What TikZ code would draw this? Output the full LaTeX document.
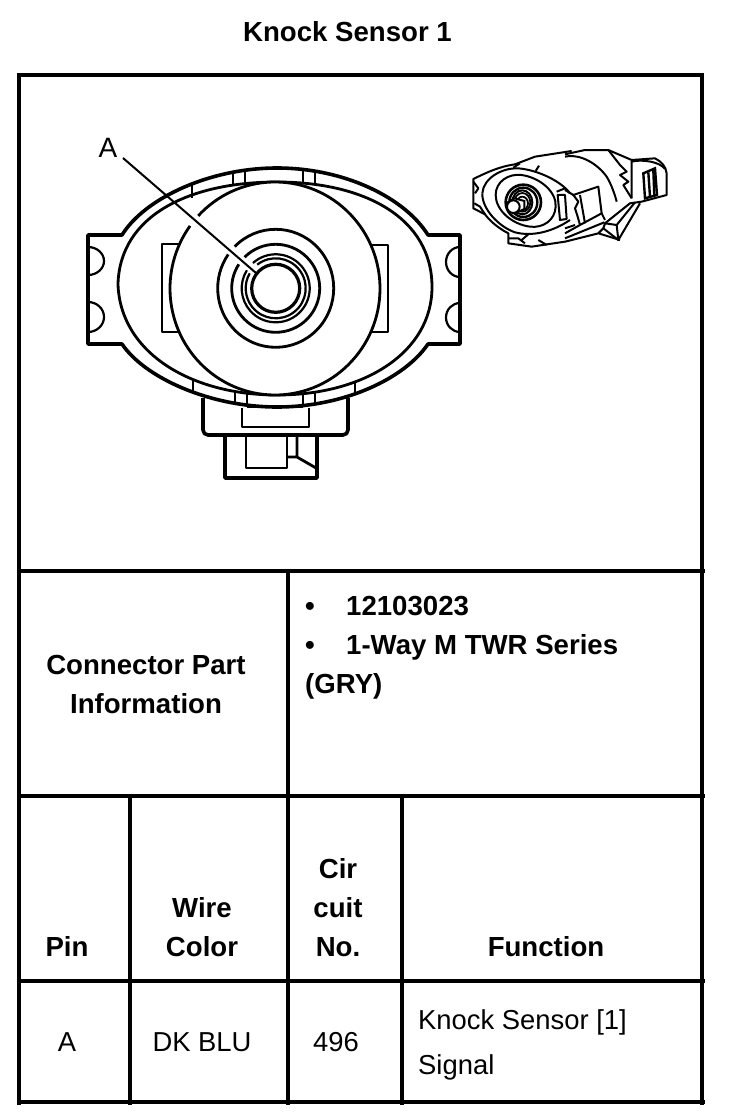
\documentclass[tikz,border=0pt]{standalone}
\usepackage{fontspec}
\setmainfont{Liberation Sans}
\tikzset{
 gridh/.style={line width=3.3pt,black},
 gridv/.style={line width=3.8pt,black},
 hd/.style={font=\fontsize{27.6}{38.8}\selectfont\bfseries,align=center,inner sep=0pt,anchor=base},
 bd/.style={font=\fontsize{27.4}{45}\selectfont,align=left,inner sep=0pt,anchor=base},
 thick line/.style={line width=3.6pt,line join=round},
 mid line/.style={line width=2.8pt,line join=round},
 thin line/.style={line width=2.2pt,line join=round},
 iso/.style={line width=2pt,line join=round},
}
\begin{document}
\begin{tikzpicture}[x=1pt,y=-1pt]
\useasboundingbox (0,0) rectangle (736,1116);
\fill[white] (0,0) rectangle (736,1116);
% title
\node[hd] (title) at (347.5,42) {Knock Sensor 1};
% table
\draw[gridh] (17.5,75) -- (704,75) (17.5,571) -- (705,571) (17.5,796) -- (705,796) (17.5,981) -- (705,981) (17.5,1102) -- (705,1102);
\draw[gridv] (19,73) -- (19,1105) (702,73) -- (702,1105);
\draw[gridv] (288,571) -- (288,1105) (130,796) -- (130,1105) (402,796) -- (402,1105);
\node[hd] (cpi) at (146,713) {Connector Part\\Information};
\node[hd,anchor=base west] (b1) at (305,615) {•};
\node[hd,anchor=base west] (p1) at (346,615) {12103023};
\node[hd,anchor=base west] (b2) at (305,654) {•};
\node[hd,anchor=base west] (p2) at (346,654) {1-Way M TWR Series};
\node[hd,anchor=base west] (p3) at (305,693) {(GRY)};
\node[hd] (pin) at (67,956) {Pin};
\node[hd] (wire) at (202,956) {Wire\\Color};
\node[hd] (cir) at (338,956) {Cir\\cuit\\No.};
\node[hd] (func) at (546,956) {Function};
\node[bd] (va) at (67,1051) {A};
\node[bd] (vb) at (202,1051) {DK BLU};
\node[bd] (vc) at (336,1051) {496};
\node[bd,anchor=base west] (vd) at (418,1074) {Knock Sensor [1]\\Signal};
% main view
\coordinate (ctr) at (275.7,288.3);
\draw[thick line] (122,235) .. controls (145,198) and (210,168) .. (277,168) .. controls (345,168) and (405,198) .. (428,235) -- (460,235) -- (460,344) -- (428,344) .. controls (405,378) and (345,407) .. (277,407) .. controls (210,407) and (145,378) .. (122,344) -- (88,344) -- (88,235) -- cycle;
\draw[mid line] (118,284) .. controls (120,215) and (190,182) .. (277,182) .. controls (365,182) and (432,218) .. (432,287) .. controls (432,352) and (365,395) .. (277,395) .. controls (190,395) and (120,352) .. (118,284) -- cycle;
\draw[thin line] (88,247) arc[start angle=-90,end angle=90,x radius=16,y radius=14];
\draw[thin line] (88,302) arc[start angle=-90,end angle=90,x radius=16,y radius=15];
\draw[thin line] (460,247) arc[start angle=270,end angle=90,x radius=14,y radius=15];
\draw[thin line] (460,303) arc[start angle=270,end angle=90,x radius=14,y radius=14.5];
\draw[mid line] (180,244) -- (162,244) -- (162,332) -- (178,332);
\draw[mid line] (372,245) -- (388,245) -- (388,332) -- (372,332);
% big circle and rings, each open where the leader passes
\fill[white] (275,288.5) ellipse[x radius=105,y radius=106.5];
\draw[mid line] (275,288.5) ++(223:105 and 106.5) arc[start angle=223,end angle=576,x radius=105,y radius=106.5];
\draw[mid line] (ctr) ++(225:58 and 59) arc[start angle=225,end angle=575,x radius=58,y radius=59];
\draw[mid line] (ctr) ++(225:44) arc[start angle=225,end angle=573,radius=44];
\draw[thin line] (ctr) ++(228:34) arc[start angle=228,end angle=572,radius=34];
\draw[thin line] (ctr) ++(232:30) arc[start angle=232,end angle=570,radius=30];
\draw[line width=3.2pt] (ctr) circle[radius=24];
\draw[mid line] (233,173) -- (233,185) (245,170) -- (245,183) (303,170) -- (303,183) (315,173) -- (315,185);
\draw[mid line] (192,183) -- (192,198);
\draw[mid line] (193,380) -- (193,393) (355,381) -- (355,393);
\draw[mid line] (235,392) -- (235,405) (247,393) -- (247,407) (303,393) -- (303,407) (315,392) -- (315,405);
% connector housing
\draw[thick line,rounded corners=5pt] (203,398) -- (203,435) -- (348,435) -- (348,398);
\draw[mid line] (247,407) -- (303,407);
\draw[mid line] (242,408) -- (242,427) -- (309,427) -- (309,408);
\draw[thick line] (225,435) -- (225,478) -- (317,478) -- (317,435);
\draw[mid line] (246,436) -- (246,468) -- (287,468) -- (287,436);
\draw[mid line] (287,457) -- (297,457) -- (297,436) (297,457) -- (316,468);
% leader
\node[font=\fontsize{28}{28}\selectfont,inner sep=0pt] (A) at (108,148) {A};
\coordinate (Aend) at (256,273);
\draw[line width=2pt] (123,158) -- (Aend);
% small view, left part
\begin{scope}[shift={(465,145)},x=0.3333pt,y=-0.3333pt]
 \draw[iso] (150,58) .. controls (100,65) and (60,85) .. (25,102) -- (25,190) -- (60,208) .. controls (80,235) and (110,255) .. (130,265) -- (130,295) -- (200,305) -- (300,290);
 \draw[iso] (52,145) .. controls (55,100) and (110,68) .. (160,70) .. controls (220,75) and (290,110) .. (315,145);
 \draw[iso] (52,145) .. controls (50,190) and (100,245) .. (150,262) .. controls (200,275) and (260,262) .. (315,225);
 \draw[iso] (92,150) .. controls (92,110) and (130,85) .. (170,90) .. controls (225,98) and (275,140) .. (272,185) .. controls (270,225) and (235,250) .. (195,245) .. controls (140,238) and (92,195) .. (92,150) -- cycle;
 \draw[line width=2.6pt] (175,172) circle[radius=53];
 \draw[line width=2.4pt] (175,172) ellipse[x radius=42,y radius=44];
 \draw[line width=2pt] (172,172) ellipse[x radius=30,y radius=36];
 \draw[line width=1.8pt] (172,172) ellipse[x radius=24,y radius=28];
 \draw[line width=1.8pt] (172,175) ellipse[x radius=17,y radius=20];
 \draw[line width=2pt,fill=white] (128,172) -- (148,160) -- (178,168) -- (178,192) -- (150,205) -- cycle;
 \draw[line width=2pt,fill=white] (145,185) circle[radius=19];
 \draw[iso] (150,58) -- (210,35) -- (320,18);
 \draw[iso] (145,68) -- (165,55) (212,78) -- (222,62);
 \draw[iso] (25,110) -- (40,130) -- (30,145) (28,175) -- (45,185) -- (60,208);
 \draw[iso] (275,140) -- (300,130) -- (315,145) (278,150) -- (285,225) -- (305,222) -- (300,150) -- cycle;
 \draw[iso] (170,285) -- (190,268) (220,285) -- (245,300) (130,280) -- (160,280) -- (180,295);
\end{scope}
% small view, right part
\begin{scope}[shift={(565,145)},x=0.3333pt,y=-0.3333pt]
 \draw[iso] (0,28) -- (60,15) -- (130,15) -- (200,45) -- (270,40) .. controls (290,50) and (303,65) .. (305,85) -- (305,150) -- (230,170) -- (195,175) -- (120,235) -- (115,250) -- (160,285) -- (225,175);
 \draw[iso] (0,35) .. controls (50,25) and (100,60) .. (125,95) .. controls (140,120) and (150,150) .. (155,170);
 \draw[iso] (130,15) -- (165,60) -- (185,80) -- (165,90) -- (190,110) -- (175,120) -- (200,160);
 \draw[iso] (200,48) -- (200,160) (200,50) .. controls (230,42) and (285,50) .. (300,72);
 \draw[line width=2.4pt] (235,85) -- (270,70) -- (276,150) -- (240,160) -- cycle;
 \draw[line width=2.4pt] (250,82) -- (255,155) (265,75) -- (268,152);
 \draw[iso] (25,150) -- (100,125) -- (110,205) -- (45,240) -- (38,215) -- (30,190) -- (40,170) -- cycle;
 \draw[iso] (210,172) -- (155,240) -- (160,285) (120,235) -- (155,240);
 \draw[iso] (45,150) -- (60,235);
 \draw[iso] (0,265) -- (45,240) (110,205) -- (120,225) (0,290) -- (100,265) -- (165,285) (100,265) -- (115,250) (0,280) -- (118,232);
 \draw[iso] (0,135) -- (25,150) (0,250) -- (30,240);
\end{scope}
\end{tikzpicture}
\end{document}
